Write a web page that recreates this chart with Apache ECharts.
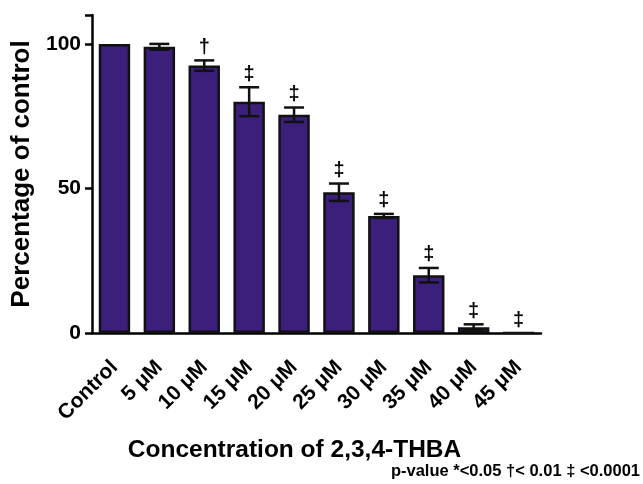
<!DOCTYPE html>
<html>
<head>
<meta charset="utf-8">
<script src="https://cdn.jsdelivr.net/npm/echarts@6/dist/echarts.min.js"></script>
<style>
html,body{margin:0;padding:0;background:#fff;}
#c{width:643px;height:484px;}
</style>
</head>
<body>
<div id="c"></div>
<script>
var categories = ['Control','5 \u03bcM','10 \u03bcM','15 \u03bcM','20 \u03bcM','25 \u03bcM','30 \u03bcM','35 \u03bcM','40 \u03bcM','45 \u03bcM'];
var values = [100, 99, 92.5, 80, 75.5, 48.7, 40.5, 20, 2, 0];
var errors = [0, 1, 1.8, 5, 2.5, 3, 0.7, 2.5, 1, 0];
var marks = ['', '', '\u2020', '\u2021', '\u2021', '\u2021', '\u2021', '\u2021', '\u2021', '\u2021'];
var yTicks = [0, 50, 100];

var chart = echarts.init(document.getElementById('c'));
var FONT = 'Liberation Sans, Arial, sans-serif';

var errData = values.map(function(v, i){ return [i, v, errors[i], marks[i]]; });

chart.setOption({
  animation: false,
  grid: {left: 92, right: 102, top: 15, bottom: 151, containLabel: false},
  xAxis: {
    type: 'category',
    data: categories,
    axisLine: {lineStyle: {color: '#000', width: 2.5}},
    axisTick: {alignWithLabel: true, length: 9, lineStyle: {color: '#000', width: 2.5}},
    axisLabel: {rotate: 45, color: '#000', fontFamily: FONT, fontWeight: 'bold', fontSize: 21, margin: 31, interval: 0},
    name: 'Concentration of 2,3,4-THBA',
    nameLocation: 'middle',
    nameGap: 105,
    nameTextStyle: {color: '#000', fontFamily: FONT, fontWeight: 'bold', fontSize: 24.5, padding: [0, 44, 0, 0]}
  },
  yAxis: {
    type: 'value',
    min: 0, max: 110, interval: 50,
    splitLine: {show: false},
    axisLine: {show: true, lineStyle: {color: '#000', width: 2.5}},
    axisTick: {show: true, length: 7, lineStyle: {color: '#000', width: 2.5}},
    axisLabel: {color: '#000', fontFamily: FONT, fontWeight: 'bold', fontSize: 21, margin: 11,
      formatter: function(v){ return yTicks.indexOf(v) >= 0 ? String(v) : ''; }},
    name: 'Percentage of control',
    nameLocation: 'middle',
    nameGap: 51,
    nameRotate: 90,
    nameTextStyle: {color: '#000', fontFamily: FONT, fontWeight: 'bold', fontSize: 26}
  },
  graphic: [{
    type: 'text', right: 3, top: 463,
    style: {text: 'p-value *<0.05 \u2020< 0.01 \u2021 <0.0001', fill: '#000', font: 'bold 16.5px ' + FONT}
  }],
  series: [{
    type: 'bar',
    data: values,
    barWidth: '70%',
    itemStyle: {color: '#3b1f7a', borderColor: '#111', borderWidth: 2.5}
  }, {
    type: 'custom',
    data: errData,
    z: 10,
    renderItem: function(params, api){
      var i = api.value(0), v = api.value(1), e = api.value(2);
      var top = api.coord([i, v + e]);
      var bot = api.coord([i, v - e]);
      var hw = 10;
      var ch = [];
      if (e > 0) {
        ch.push({type: 'line', shape: {x1: top[0], y1: top[1], x2: bot[0], y2: bot[1]}, style: {stroke: '#111', lineWidth: 2.5}});
        ch.push({type: 'line', shape: {x1: top[0]-hw, y1: top[1], x2: top[0]+hw, y2: top[1]}, style: {stroke: '#111', lineWidth: 2.5}});
        ch.push({type: 'line', shape: {x1: bot[0]-hw, y1: bot[1], x2: bot[0]+hw, y2: bot[1]}, style: {stroke: '#111', lineWidth: 2.5}});
      }
      var m = marks[params.dataIndex];
      if (m) {
        ch.push({type: 'text', style: {text: m, x: top[0], y: top[1] - 13, fill: '#000', font: 'bold 20px ' + FONT, align: 'center', verticalAlign: 'middle'}});
      }
      return {type: 'group', children: ch};
    }
  }]
});
</script>
</body>
</html>
